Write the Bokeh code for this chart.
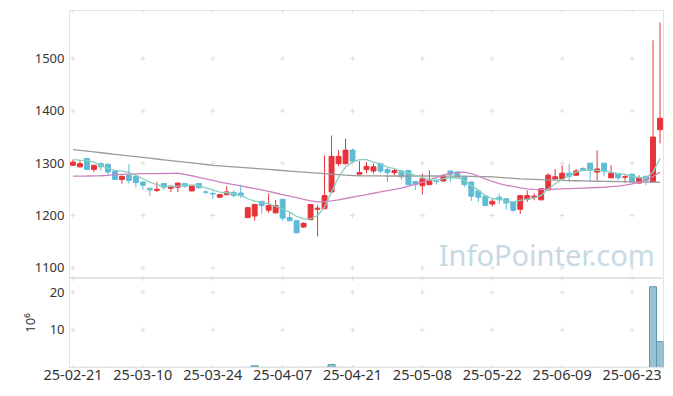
import pandas as pd
from bokeh.plotting import figure
from bokeh.layouts import column
from bokeh.models import Range1d, FixedTicker, ColumnDataSource, Label
from bokeh.embed import file_html
from bokeh.resources import INLINE

# ---------------- data ----------------
holidays = ["2025-03-03", "2025-05-01", "2025-05-05", "2025-05-06", "2025-06-03", "2025-06-06"]
dates = [d.strftime("%y-%m-%d") for d in pd.bdate_range("2025-02-21", "2025-06-27")
         if d.strftime("%Y-%m-%d") not in holidays]

tick_index = [0, 10, 20, 30, 40, 50, 60, 70, 80]
tick_labels = ["25-02-21", "25-03-10", "25-03-24", "25-04-07", "25-04-21",
               "25-05-08", "25-05-22", "25-06-09", "25-06-23"]

opens = [1296, 1293, 1309, 1288, 1299, 1298, 1284, 1269, 1277, 1275,
         1264, 1252, 1248, 1261, 1252, 1254, 1261, 1247, 1261, 1245,
         1242, 1235, 1240, 1244, 1243, 1196, 1199, 1227, 1210, 1205,
         1231, 1196, 1190, 1178, 1192, 1212, 1213, 1245, 1299, 1299,
         1325, 1279, 1288, 1285, 1299, 1288, 1282, 1285, 1286, 1265,
         1257, 1259, 1266, 1266, 1285, 1283, 1274, 1264, 1247, 1237,
         1222, 1235, 1232, 1226, 1212, 1231, 1235, 1230, 1249, 1270,
         1270, 1281, 1277, 1290, 1300, 1283, 1300, 1272, 1280, 1273,
         1279, 1262, 1275, 1264, 1364]
highs = [1307, 1306, 1309, 1297, 1302, 1299, 1285, 1276, 1298, 1276,
         1265, 1253, 1264, 1262, 1257, 1263, 1262, 1258, 1262, 1248,
         1247, 1241, 1256, 1248, 1259, 1216, 1222, 1228, 1242, 1230,
         1232, 1205, 1191, 1187, 1222, 1220, 1315, 1353, 1325, 1347,
         1328, 1304, 1302, 1299, 1300, 1291, 1289, 1288, 1287, 1266,
         1280, 1286, 1270, 1279, 1286, 1285, 1275, 1265, 1248, 1238,
         1232, 1242, 1233, 1227, 1239, 1248, 1242, 1252, 1281, 1289,
         1296, 1299, 1289, 1292, 1301, 1325, 1301, 1296, 1281, 1277,
         1280, 1277, 1276, 1535, 1569]
lows = [1295, 1292, 1287, 1283, 1286, 1277, 1268, 1261, 1261, 1254,
        1249, 1238, 1245, 1249, 1245, 1245, 1253, 1246, 1252, 1240,
        1232, 1234, 1238, 1235, 1234, 1195, 1190, 1203, 1205, 1204,
        1189, 1189, 1166, 1176, 1191, 1160, 1212, 1244, 1294, 1298,
        1303, 1279, 1281, 1280, 1281, 1264, 1277, 1268, 1258, 1249,
        1240, 1258, 1259, 1265, 1264, 1271, 1254, 1228, 1226, 1218,
        1217, 1222, 1211, 1207, 1203, 1226, 1229, 1229, 1248, 1269,
        1269, 1264, 1276, 1285, 1264, 1267, 1275, 1271, 1267, 1262,
        1263, 1261, 1258, 1263, 1338]
closes = [1302, 1299, 1288, 1296, 1293, 1283, 1269, 1275, 1267, 1263,
          1258, 1249, 1250, 1254, 1256, 1262, 1256, 1258, 1253, 1244.5,
          1241, 1240, 1245, 1238, 1238, 1215, 1221, 1219, 1219, 1219,
          1195, 1190, 1167, 1185, 1221, 1214, 1238, 1313, 1313, 1325,
          1304, 1282, 1294, 1293, 1285, 1282, 1286, 1274, 1259, 1259,
          1270, 1266, 1265, 1275, 1279, 1272, 1259, 1237, 1235, 1219,
          1227, 1230, 1224, 1210, 1238, 1238, 1237, 1251, 1277, 1274,
          1281, 1275, 1285, 1286, 1286, 1289, 1285, 1281, 1272, 1274,
          1264, 1272, 1267, 1350, 1386]

ma_short = [1306.7, 1306.0, 1305.4, 1302.0, 1295.8, 1290.7, 1286.2, 1285.0, 1282.4, 1276.7,
            1270.3, 1263.9, 1258.8, 1256.3, 1255.6, 1256.3, 1257.5, 1257.5, 1257.5, 1253.0,
            1249.2, 1244.8, 1243.5, 1241.6, 1238.4, 1232.0, 1227.5, 1225.6, 1222.4, 1217.3,
            1212.9, 1206.5, 1198.2, 1193.7, 1193.7, 1200.0, 1216.0, 1244.8, 1273.5, 1292.6,
            1302.2, 1307.0, 1306.7, 1302.2, 1299.0, 1292.6, 1289.4, 1285.0, 1281.1, 1276.7,
            1272.2, 1268.4, 1267.1, 1270.3, 1272.2, 1272.2, 1267.1, 1257.5, 1248.0, 1238.4,
            1232.0, 1232.0, 1227.5, 1225.6, 1228.8, 1231.4, 1233.3, 1238.4, 1251.1, 1260.7,
            1268.4, 1276.7, 1283.0, 1286.2, 1287.5, 1286.2, 1285.0, 1283.0, 1279.8, 1278.6,
            1274.7, 1272.2, 1272.2, 1283.0, 1309.0]
ma_mid = [1275.4, 1275.4, 1275.5, 1275.7, 1276.0, 1276.7, 1278.0, 1278.6, 1279.2, 1279.6,
          1280.0, 1280.0, 1280.0, 1280.3, 1280.5, 1280.8, 1278.5, 1276.0, 1273.0, 1270.0,
          1267.0, 1264.0, 1261.5, 1259.0, 1256.5, 1254.0, 1251.5, 1249.0, 1246.0, 1243.0,
          1240.0, 1237.0, 1234.0, 1231.0, 1228.0, 1226.0, 1226.5, 1228.0, 1230.0, 1232.5,
          1235.0, 1237.5, 1240.0, 1242.5, 1245.0, 1247.5, 1250.0, 1252.5, 1256.0, 1260.0,
          1264.0, 1268.0, 1272.5, 1277.0, 1280.5, 1282.5, 1283.0, 1280.0, 1275.5, 1270.0,
          1265.0, 1261.0, 1257.5, 1255.5, 1253.0, 1251.0, 1250.0, 1249.5, 1250.0, 1250.5,
          1251.0, 1251.5, 1252.0, 1252.5, 1253.0, 1253.5, 1254.0, 1255.0, 1256.0, 1258.0,
          1260.5, 1264.0, 1268.0, 1274.5, 1283.0]
ma_long = [1326.0, 1324.5, 1323.0, 1321.5, 1320.0, 1318.5, 1317.0, 1315.5, 1314.0, 1312.5,
           1311.0, 1309.5, 1308.0, 1306.5, 1305.0, 1303.5, 1302.0, 1300.5, 1299.0, 1297.5,
           1296.0, 1295.0, 1294.0, 1293.0, 1292.0, 1291.0, 1290.0, 1289.0, 1288.0, 1287.0,
           1286.0, 1285.0, 1284.0, 1283.0, 1282.0, 1281.0, 1280.0, 1279.0, 1278.0, 1277.0,
           1276.5, 1276.0, 1275.8, 1275.7, 1275.6, 1275.5, 1275.5, 1275.5, 1275.5, 1275.5,
           1275.5, 1275.5, 1275.5, 1275.4, 1275.3, 1275.2, 1275.0, 1274.8, 1274.5, 1274.2,
           1273.8, 1273.0, 1272.0, 1271.0, 1270.0, 1269.5, 1269.0, 1268.5, 1268.0, 1267.5,
           1267.0, 1266.7, 1266.4, 1266.1, 1265.8, 1265.5, 1265.2, 1265.0, 1264.8, 1264.6,
           1264.4, 1264.2, 1264.0, 1263.8, 1263.6]

volume_m = [0.02, 0.02, 0.03, 0.02, 0.02, 0.03, 0.02, 0.02, 0.03, 0.02,
            0.02, 0.02, 0.02, 0.02, 0.02, 0.02, 0.02, 0.02, 0.02, 0.02,
            0.02, 0.02, 0.02, 0.02, 0.03, 0.05, 0.45, 0.04, 0.03, 0.03,
            0.04, 0.03, 0.05, 0.03, 0.04, 0.05, 0.06, 0.80, 0.05, 0.04,
            0.03, 0.02, 0.02, 0.02, 0.02, 0.02, 0.02, 0.02, 0.02, 0.02,
            0.03, 0.02, 0.02, 0.02, 0.02, 0.02, 0.02, 0.03, 0.02, 0.02,
            0.02, 0.02, 0.02, 0.02, 0.03, 0.02, 0.02, 0.02, 0.03, 0.02,
            0.02, 0.02, 0.02, 0.02, 0.02, 0.03, 0.02, 0.02, 0.02, 0.02,
            0.02, 0.02, 0.02, 21.5, 6.9]

price_ticks = [1100, 1200, 1300, 1400, 1500]
vol_ticks = [10, 20]

# ---------------- styling ----------------
UP = "#e8333a"
DOWN = "#5ebbd6"
GRID = "#dedede"
AXIS = "#e3e3e3"
FONT = "Noto Sans"

n = len(dates)
idx = list(range(n))
x_range = Range1d(-0.5, n - 0.5)
price_lo, price_hi = 1079.5, 1592.0
vol_lo, vol_hi = 0.0, 23.7

src = ColumnDataSource(dict(
    x=idx, open=opens, high=highs, low=lows, close=closes,
    top=[max(o, c) for o, c in zip(opens, closes)],
    bottom=[min(o, c) for o, c in zip(opens, closes)],
    color=[UP if c >= o else DOWN for o, c in zip(opens, closes)],
    ma_s=ma_short, ma_m=ma_mid, ma_l=ma_long, vol=volume_m,
))

# ---------------- price panel ----------------
p1 = figure(frame_width=594, frame_height=268, x_range=x_range,
            y_range=Range1d(price_lo, price_hi), output_backend="svg",
            toolbar_location=None, x_axis_location=None,
            min_border_left=69, min_border_right=2, min_border_top=10, min_border_bottom=0)
p1.xgrid.visible = False
p1.ygrid.visible = False
p1.outline_line_color = AXIS
p1.background_fill_color = "white"

gx = [t for t in tick_index for _ in range(len(price_ticks) + 2)]
gy = [v for _ in tick_index for v in price_ticks + [price_lo, price_hi]]
p1.scatter(gx, gy, marker="cross", size=5, line_color=GRID, line_width=1)

p1.segment("x", "high", "x", "low", source=src, line_color="color", line_width=1)
p1.vbar(x="x", top="top", bottom="bottom", width=0.7, source=src,
        fill_color="color", line_color="color", line_width=1)

p1.line("x", "ma_l", source=src, line_color="#9a9a9a", line_width=1.3)
p1.line("x", "ma_m", source=src, line_color="#cf82c0", line_width=1.3)
p1.line("x", "ma_s", source=src, line_color="#86d0c2", line_width=1.3)

p1.add_layout(Label(x=67.8, y=1126, text="InfoPointer.com", text_font_size="29px",
                    text_font=FONT, text_color="#c6d9e4", text_align="center",
                    text_baseline="middle"))

ya = p1.yaxis[0]
ya.ticker = FixedTicker(ticks=price_ticks)
ya.major_tick_out = 0
ya.major_tick_in = 0
ya.minor_tick_out = 0
ya.minor_tick_in = 0
ya.axis_line_color = AXIS
ya.major_label_standoff = 5
ya.major_label_text_font = FONT
ya.major_label_text_font_size = "13px"
ya.major_label_text_color = "#333333"

# ---------------- volume panel ----------------
p2 = figure(frame_width=594, frame_height=89, x_range=x_range,
            y_range=Range1d(vol_lo, vol_hi), output_backend="svg",
            toolbar_location=None,
            min_border_left=69, min_border_right=2, min_border_top=0, min_border_bottom=20)
p2.xgrid.visible = False
p2.ygrid.visible = False
p2.outline_line_color = AXIS

vx = [t for t in tick_index for _ in range(len(vol_ticks) + 2)]
vy = [v for _ in tick_index for v in vol_ticks + [vol_lo, vol_hi]]
p2.scatter(vx, vy, marker="cross", size=5, line_color=GRID, line_width=1)

p2.vbar(x="x", top="vol", bottom=0, width=1.0, source=src,
        fill_color="#98c2d3", line_color="#5f98ae", line_width=1)

xa = p2.xaxis[0]
xa.ticker = FixedTicker(ticks=tick_index)
xa.major_label_overrides = {i: lab for i, lab in zip(tick_index, tick_labels)}
xa.major_tick_out = 0
xa.major_tick_in = 0
xa.minor_tick_out = 0
xa.minor_tick_in = 0
xa.axis_line_color = AXIS
xa.major_label_standoff = 2
xa.major_label_text_font = FONT
xa.major_label_text_font_size = "14.5px"
xa.major_label_text_color = "#333333"

va = p2.yaxis[0]
va.ticker = FixedTicker(ticks=vol_ticks)
va.major_tick_out = 0
va.major_tick_in = 0
va.minor_tick_out = 0
va.minor_tick_in = 0
va.axis_line_color = AXIS
va.major_label_standoff = 5
va.major_label_text_font = FONT
va.major_label_text_font_size = "13px"
va.major_label_text_color = "#333333"
va.axis_label = "10⁶"
va.axis_label_text_font = FONT
va.axis_label_text_font_size = "13px"
va.axis_label_text_font_style = "normal"
va.axis_label_text_color = "#333333"
va.axis_label_standoff = 8

layout = column(p1, p2)
open("out.html", "w").write(file_html(layout, INLINE))
